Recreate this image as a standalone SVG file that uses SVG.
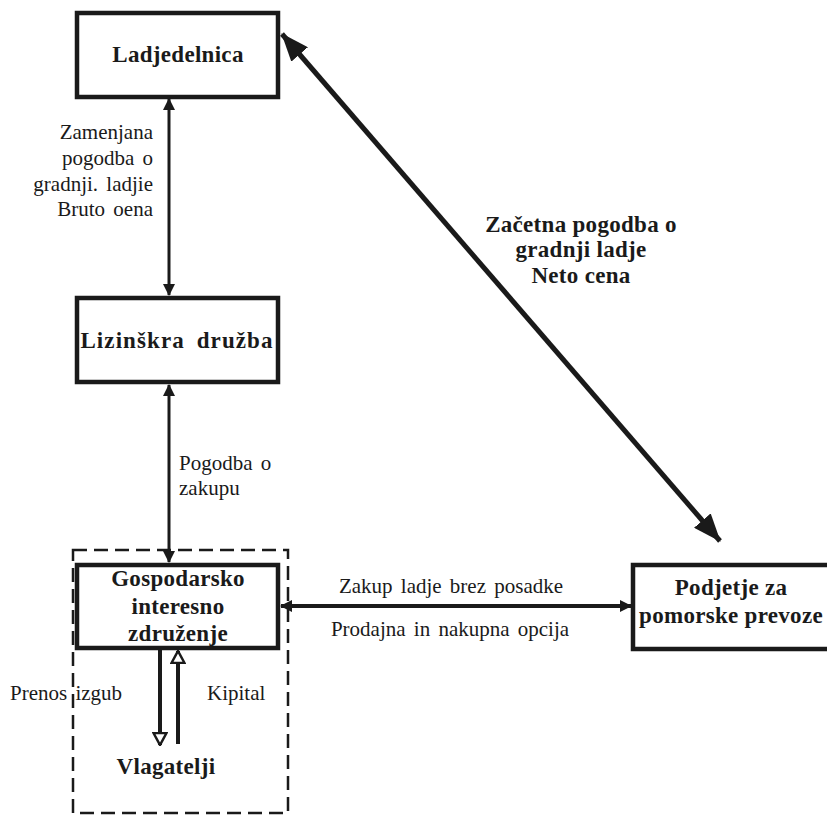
<svg xmlns="http://www.w3.org/2000/svg" width="827" height="816" viewBox="0 0 827 816">
<style>
.box{fill:#fff;stroke:#1a1a1a;stroke-width:4.5}
.b{font-family:"Liberation Serif","Times New Roman",serif;font-weight:bold;font-size:23px;fill:#1a1a1a;text-anchor:middle;letter-spacing:0.3px}
.t{font-family:"Liberation Serif","Times New Roman",serif;font-size:21px;fill:#1a1a1a;word-spacing:3px}
.c{fill:none;stroke:#1a1a1a}
</style>
<defs>
<marker id="sm" viewBox="0 0 12 14" refX="11" refY="7" markerWidth="12" markerHeight="14" markerUnits="userSpaceOnUse" orient="auto-start-reverse">
<path d="M0,1 L12,7 L0,13 Z" fill="#1a1a1a"/>
</marker>
<marker id="big" viewBox="0 0 28 22" refX="27" refY="11" markerWidth="28" markerHeight="22" markerUnits="userSpaceOnUse" orient="auto-start-reverse">
<path d="M0,0 L28,11 L0,22 Z" fill="#1a1a1a"/>
</marker>
<marker id="hol" viewBox="0 0 14 16" refX="13" refY="8" markerWidth="14" markerHeight="16" markerUnits="userSpaceOnUse" orient="auto">
<path d="M1,1.5 L13,8 L1,14.5 Z" fill="#fff" stroke="#1a1a1a" stroke-width="2.5"/>
</marker>
</defs>
<rect width="827" height="816" fill="#fff"/>
<g id="group-dashed">
<rect x="73" y="550" width="215" height="263" fill="none" stroke="#1a1a1a" stroke-width="2.5" stroke-dasharray="14,7"/>
</g>
<g id="connectors">
<line class="c" x1="169" y1="99" x2="169" y2="295" stroke-width="3" marker-start="url(#sm)" marker-end="url(#sm)"/>
<line class="c" x1="169" y1="385" x2="169" y2="562" stroke-width="3" marker-start="url(#sm)" marker-end="url(#sm)"/>
<line class="c" x1="281" y1="606" x2="631" y2="606" stroke-width="4" marker-start="url(#sm)" marker-end="url(#sm)"/>
<line class="c" x1="282" y1="34" x2="720" y2="541" stroke-width="5" marker-start="url(#big)" marker-end="url(#big)"/>
<line class="c" x1="160" y1="650" x2="160" y2="745" stroke-width="4" marker-end="url(#hol)"/>
<line class="c" x1="178" y1="744" x2="178" y2="651" stroke-width="4" marker-end="url(#hol)"/>
<text class="t" x="153" y="139" text-anchor="end">Zamenjana</text>
<text class="t" x="153" y="165" text-anchor="end">pogodba o</text>
<text class="t" x="153" y="191" text-anchor="end">gradnji. ladjie</text>
<text class="t" x="153" y="216" text-anchor="end">Bruto oena</text>
<text class="t" x="179" y="470">Pogodba o</text>
<text class="t" x="179" y="495">zakupu</text>
<text class="t" x="451" y="593" text-anchor="middle">Zakup ladje brez posadke</text>
<text class="t" x="450" y="636" text-anchor="middle">Prodajna in nakupna opcija</text>
<text class="b" x="581" y="232">Začetna pogodba o</text>
<text class="b" x="581" y="257">gradnji ladje</text>
<text class="b" x="581" y="283">Neto cena</text>
<text class="t" x="10" y="700">Prenos izgub</text>
<text class="t" x="207" y="700">Kipital</text>
</g>
<g id="node-ladjedelnica">
<rect class="box" x="77" y="13" width="201" height="84"/>
<text class="b" x="178" y="62">Ladjedelnica</text>
</g>
<g id="node-lizing">
<rect class="box" x="77" y="298" width="201" height="84"/>
<text class="b" x="177" y="348" style="letter-spacing:1.1px;word-spacing:5px">Lizinškra družba</text>
</g>
<g id="node-giz">
<rect class="box" x="77" y="565" width="201" height="83"/>
<text class="b" x="178" y="586">Gospodarsko</text>
<text class="b" x="178" y="614">interesno</text>
<text class="b" x="178" y="641">združenje</text>
</g>
<g id="node-podjetje">
<rect class="box" x="633" y="565" width="200" height="84"/>
<text class="b" x="731" y="595">Podjetje za</text>
<text class="b" x="731" y="623">pomorske prevoze</text>
</g>
<g id="node-vlagatelji">
<text class="b" x="166" y="774">Vlagatelji</text>
</g>
</svg>
